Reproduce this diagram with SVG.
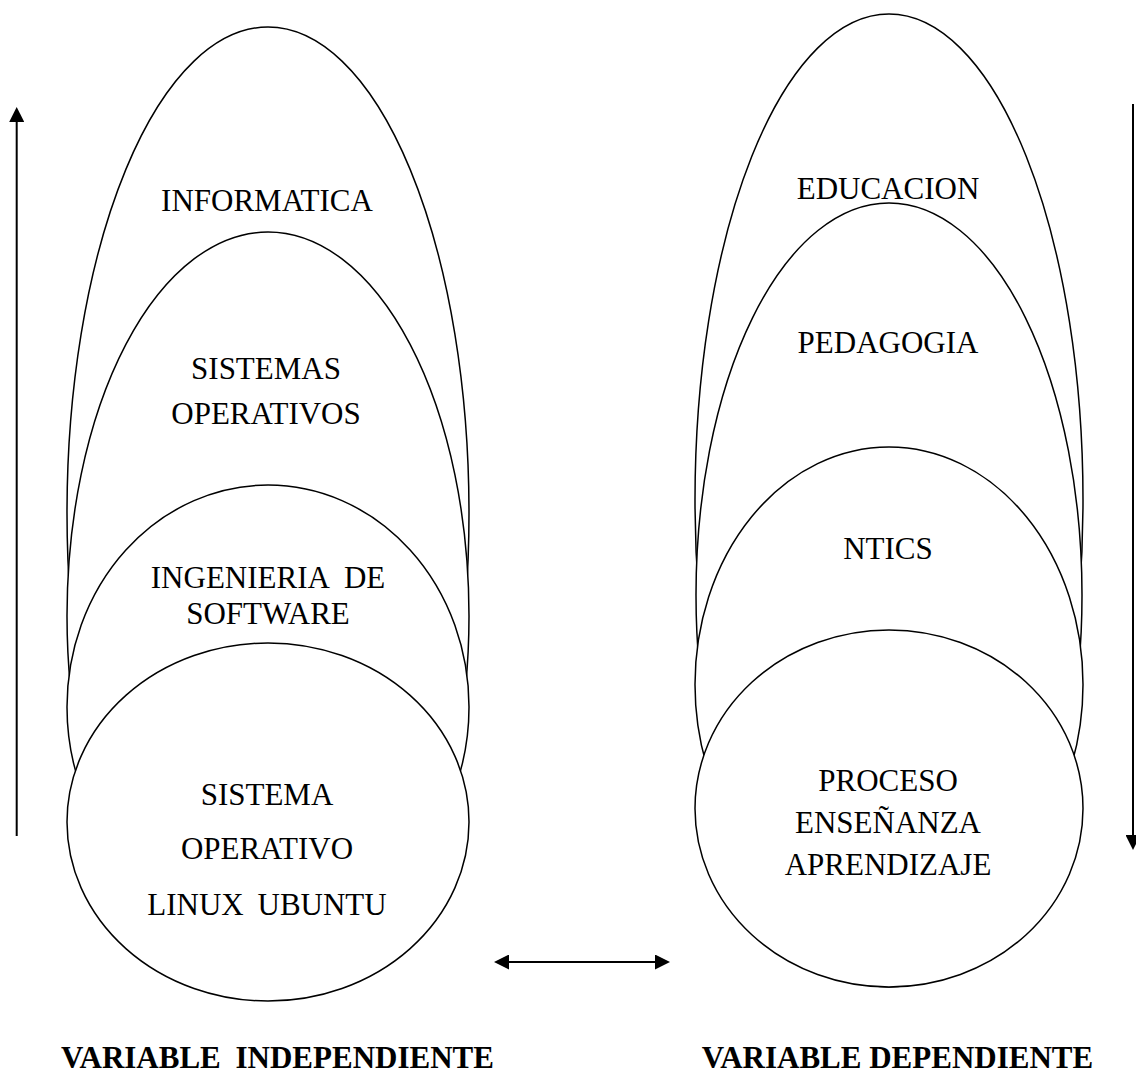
<svg xmlns="http://www.w3.org/2000/svg" width="1136" height="1080" viewBox="0 0 1136 1080">
  <style>
    .shape { fill: #ffffff; stroke: #000000; stroke-width: 1.5; }
    .lbl { font-family: "Liberation Serif", "Times New Roman", serif; font-size: 31px; fill: #000000; text-anchor: middle; }
    .title { font-family: "Liberation Serif", "Times New Roman", serif; font-size: 31px; font-weight: bold; fill: #000000; text-anchor: middle; }
    .conn { stroke: #000000; stroke-width: 2; fill: none; }
  </style>
  <defs>
    <marker id="ah" markerUnits="userSpaceOnUse" markerWidth="15" markerHeight="15" refX="0" refY="7.5" orient="auto-start-reverse">
      <path d="M0,0 L15,7.5 L0,15 z" fill="#000000"/>
    </marker>
  </defs>
  <rect x="0" y="0" width="1136" height="1080" fill="#ffffff"/>

  <!-- Left column: independent variable -->
  <g id="informatica">
    <ellipse class="shape" cx="268" cy="513" rx="201" ry="486"/>
    <text class="lbl" x="267" y="211">INFORMATICA</text>
  </g>
  <g id="sistemas-operativos">
    <ellipse class="shape" cx="268" cy="616" rx="201" ry="384"/>
    <text class="lbl" x="266" y="379">SISTEMAS</text>
    <text class="lbl" x="266" y="424">OPERATIVOS</text>
  </g>
  <g id="ingenieria-software">
    <ellipse class="shape" cx="268" cy="707" rx="201" ry="222"/>
    <text class="lbl" x="268" y="587.5" word-spacing="8">INGENIERIA DE</text>
    <text class="lbl" x="268" y="624">SOFTWARE</text>
  </g>
  <g id="linux-ubuntu">
    <ellipse class="shape" cx="268" cy="822" rx="201" ry="179"/>
    <text class="lbl" x="267" y="805">SISTEMA</text>
    <text class="lbl" x="267" y="858.5">OPERATIVO</text>
    <text class="lbl" x="267" y="915" word-spacing="6">LINUX UBUNTU</text>
  </g>

  <!-- Right column: dependent variable -->
  <g id="educacion">
    <ellipse class="shape" cx="889" cy="500" rx="194" ry="486"/>
    <text class="lbl" x="888" y="199">EDUCACION</text>
  </g>
  <g id="pedagogia">
    <ellipse class="shape" cx="889" cy="595" rx="193" ry="392"/>
    <text class="lbl" x="888" y="353">PEDAGOGIA</text>
  </g>
  <g id="ntics">
    <ellipse class="shape" cx="889" cy="684.5" rx="194" ry="237.5"/>
    <text class="lbl" x="888" y="559">NTICS</text>
  </g>
  <g id="proceso-ensenanza">
    <ellipse class="shape" cx="889" cy="808.5" rx="194" ry="178.5"/>
    <text class="lbl" x="888" y="791">PROCESO</text>
    <text class="lbl" x="888" y="833">ENSEÑANZA</text>
    <text class="lbl" x="888" y="875">APRENDIZAJE</text>
  </g>

  <!-- Titles -->
  <g id="titulo-independiente">
    <text class="title" x="277.5" y="1068" word-spacing="7">VARIABLE INDEPENDIENTE</text>
  </g>
  <g id="titulo-dependiente">
    <text class="title" x="897.5" y="1068">VARIABLE DEPENDIENTE</text>
  </g>

  <!-- Connectors -->
  <g id="connectors">
    <line class="conn" x1="16.7" y1="836" x2="16.7" y2="122" marker-end="url(#ah)"/>
    <line class="conn" x1="1133" y1="104" x2="1133" y2="835" marker-end="url(#ah)"/>
    <line class="conn" x1="509" y1="962" x2="655" y2="962" marker-start="url(#ah)" marker-end="url(#ah)"/>
  </g>
</svg>
